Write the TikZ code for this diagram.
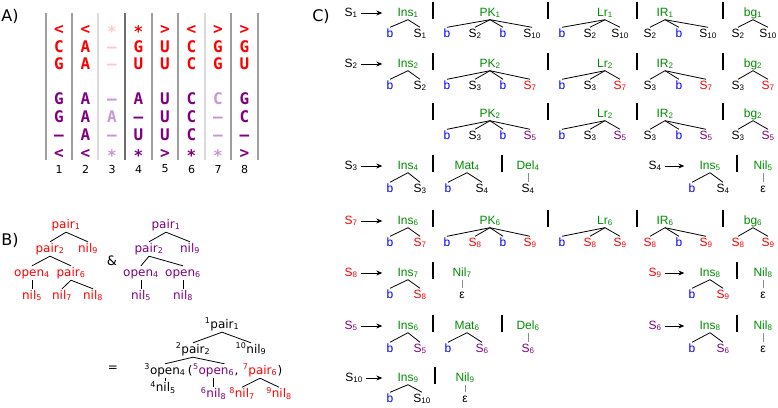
\documentclass[tikz,border=0pt]{standalone}
\usepackage{fontspec}
\setmainfont{DejaVu Sans}
\newfontfamily\helv{Liberation Sans}
\newfontfamily\seqfont{DejaVu Sans Mono}
\usetikzlibrary{arrows.meta,positioning,calc}
\definecolor{sred}{RGB}{255,0,0}
\definecolor{spur}{RGB}{128,0,128}
\definecolor{lred}{RGB}{255,200,200}
\definecolor{lpur}{RGB}{200,150,210}
\definecolor{sgreen}{RGB}{0,140,0}
\definecolor{sblue}{RGB}{0,0,255}
\newcommand{\sbs}[1]{\textsubscript{#1}}
\newcommand{\sps}[1]{\textsuperscript{#1}}
\newcommand{\st}{\raisebox{-3pt}{*}}
\newcommand{\gp}{\textendash}
\tikzstyle{seq}=[
        inner sep=0pt, text height=11.5pt, text depth=0pt,
        font=\seqfont\bfseries\fontsize{16}{16}\selectfont
]
\tikzstyle{colline}=[line width=1.3pt]
\tikzstyle{colnum}=[font=\fontsize{11}{12}\selectfont]
\tikzstyle{panel}=[font=\fontsize{16}{18}\selectfont]
\tikzstyle{tn}=[
        inner sep=1pt, text height=9pt, text depth=3pt,
        font=\fontsize{12}{14}\selectfont
]
\tikzstyle{cn}=[
        inner sep=1pt, text height=8.5pt, text depth=2.5pt,
        font=\helv\fontsize{12}{14}\selectfont
]
\tikzstyle{gname}=[cn, text=sgreen]
\tikzstyle{link}=[line width=0.8pt]
\tikzstyle{stem}=[line width=0.8pt, black!45]
\tikzstyle{sepbar}=[line width=1.4pt]
\tikzstyle{derive}=[
        -{Stealth[length=6pt,width=5pt]}, line width=0.8pt,
        shorten <=2pt, shorten >=14pt
]

\begin{document}
\begin{tikzpicture}[x=1pt, y=-1pt]
    \useasboundingbox (0,0) rectangle (778,407);

    % A) the two alignments
    \node[panel] (la) at (10,16) {A)};

    \foreach \x/\g in {46/38, 72/38, 98/14, 125/57, 152/38, 178/38, 205/14, 231/38, 258/38} {
        \draw[colline, black!\g] (\x,13) -- (\x,160);
    }

    \foreach \ch/\col [count=\i] in {</sred, </sred, \st/lred, \st/sred, >/sred, </sred, >/sred, >/sred}
        \node[seq, text=\col] (ra\i) at ({32.5+26.5*\i},29) {\ch};
    \foreach \ch/\col [count=\i] in {C/sred, A/sred, \gp/lred, G/sred, U/sred, C/sred, G/sred, G/sred}
        \node[seq, text=\col] (rb\i) at ({32.5+26.5*\i},47) {\ch};
    \foreach \ch/\col [count=\i] in {G/sred, A/sred, \gp/lred, U/sred, U/sred, C/sred, G/sred, U/sred}
        \node[seq, text=\col] (rc\i) at ({32.5+26.5*\i},64) {\ch};

    \foreach \ch/\col [count=\i] in {G/spur, A/spur, \gp/lpur, A/spur, U/spur, C/spur, C/lpur, G/spur}
        \node[seq, text=\col] (pa\i) at ({32.5+26.5*\i},99) {\ch};
    \foreach \ch/\col [count=\i] in {G/spur, A/spur, A/lpur, \gp/spur, U/spur, C/spur, \gp/lpur, C/spur}
        \node[seq, text=\col] (pb\i) at ({32.5+26.5*\i},117) {\ch};
    \foreach \ch/\col [count=\i] in {\gp/spur, A/spur, \gp/lpur, U/spur, U/spur, C/spur, \gp/lpur, \gp/spur}
        \node[seq, text=\col] (pc\i) at ({32.5+26.5*\i},135) {\ch};
    \foreach \ch/\col [count=\i] in {</spur, </spur, \st/lpur, \st/spur, >/spur, \st/spur, \st/lpur, >/spur}
        \node[seq, text=\col] (pd\i) at ({32.5+26.5*\i},153) {\ch};

    \foreach \i in {1,...,8} {
        \node[colnum] (num\i) at ({32.5+26.5*\i},169) {\i};
    }

    % B) the two trees and their merge
    \node[panel] (lb) at (10,240) {B)};

    \node[tn, text=sred] (ap1) at (66,225) {pair\sbs{1}};
    \node[tn, text=sred] (ap2) at (50,249) {pair\sbs{2}};
    \node[tn, text=sred] (an9) at (88,249) {nil\sbs{9}};
    \node[tn, text=sred] (ao4) at (32,273) {open\sbs{4}};
    \node[tn, text=sred] (ap6) at (71,273) {pair\sbs{6}};
    \node[tn, text=sred] (an5) at (32,296) {nil\sbs{5}};
    \node[tn, text=sred] (an7) at (62,296) {nil\sbs{7}};
    \node[tn, text=sred] (an8) at (93,296) {nil\sbs{8}};
    \draw[link] (ap1.south) -- (ap2.north);
    \draw[link] (ap1.south) -- (an9.north);
    \draw[link] (ap2.south) -- (ao4.north);
    \draw[link] (ap2.south) -- (ap6.north);
    \draw[link] (ao4.south) -- (an5.north);
    \draw[link] (ap6.south) -- (an7.north);
    \draw[link] (ap6.south) -- (an8.north);

    \node[tn, font=\fontsize{13}{14}\selectfont] (amp) at (112,262) {\&};

    \node[tn, text=spur] (bp1) at (166,225) {pair\sbs{1}};
    \node[tn, text=spur] (bp2) at (149,249) {pair\sbs{2}};
    \node[tn, text=spur] (bn9) at (190,249) {nil\sbs{9}};
    \node[tn, text=spur] (bo4) at (141,273) {open\sbs{4}};
    \node[tn, text=spur] (bo6) at (183,273) {open\sbs{6}};
    \node[tn, text=spur] (bn5) at (141,296) {nil\sbs{5}};
    \node[tn, text=spur] (bn8) at (183,296) {nil\sbs{8}};
    \draw[link] (bp1.south) -- (bp2.north);
    \draw[link] (bp1.south) -- (bn9.north);
    \draw[link] (bp2.south) -- (bo4.north);
    \draw[link] (bp2.south) -- (bo6.north);
    \draw[link] (bo4.south) -- (bn5.north);
    \draw[link] (bo6.south) -- (bn8.north);

    \node[tn] (eq) at (113,368) {=};

    \node[tn] (m1) at (222,325) {\sps{1}pair\sbs{1}};
    \node[tn] (m2) at (193,350) {\sps{2}pair\sbs{2}};
    \node[tn] (m10) at (251,350) {\sps{10}nil\sbs{9}};
    \node[tn] (m3) at (165,371) {\sps{3}open\sbs{4}};
    \node[tn, right=0pt of m3] (lpar) {(};
    \node[tn, text=spur, right=-2pt of lpar] (m5) {\sps{5}open\sbs{6}};
    \node[tn, right=-2pt of m5] (comma) {,};
    \node[tn, text=sred, right=2pt of comma] (m7) {\sps{7}pair\sbs{6}};
    \node[tn, right=-2pt of m7] (rpar) {)};
    \node[tn, below=3pt of m3, xshift=-2pt] (m4) {\sps{4}nil\sbs{5}};
    \node[tn, text=spur, below=9pt of m5] (m6) {\sps{6}nil\sbs{8}};
    \node[tn, text=sred, below=9pt of m7, xshift=-18pt] (m8) {\sps{8}nil\sbs{7}};
    \node[tn, text=sred, below=9pt of m7, xshift=19pt] (m9) {\sps{9}nil\sbs{8}};
    \coordinate (alt) at ($(m5.north)!.5!(m5.north east)$);
    \draw[link] (m1.south) -- (m2.north);
    \draw[link] (m1.south) -- (m10.north);
    \draw[link] (m2.south) -- (m3.north);
    \draw[link] (m2.south) -- (alt);
    \draw[link] (m3.south) -- (m3.south |- m4.north);
    \draw[link] (m5.south) -- (m6.north);
    \draw[link] (m7.south) -- (m8.north);
    \draw[link] (m7.south) -- (m9.north);

    % C) the rules
    \node[panel] (lc) at (321,16) {C)};

    \foreach \x/\y in {433/13, 548/13, 637/13, 723/13, 433/64, 548/64, 637/64, 723/64,
                       433/114, 548/114, 637/114, 723/114, 433/166, 502/166, 737/166,
                       433/221, 548/221, 637/221, 723/221, 433/273, 737/273,
                       433/326, 502/326, 737/326, 435/378} {
        \draw[sepbar] (\x,\y-11) -- (\x,\y+6);
    }

    % row S1
    \node[cn] (s1) at (351,13) {S\sbs{1}};
    \node[gname] (r1ins) at (408,13) {Ins\sbs{1}};
    \draw[derive] (s1) -- (r1ins);
    \foreach \txt/\col/\cx [count=\k] in {b/sblue/390, S\sbs{1}/black/420} {
        \node[cn, text=\col] (r1ins\k) at (\cx,34) {\txt};
        \draw[link] (r1ins.south) -- (r1ins\k.north);
    }
    \node[gname] (r1pk) at (490,13) {PK\sbs{1}};
    \foreach \txt/\col/\cx [count=\k] in {b/sblue/447, S\sbs{2}/black/475, b/sblue/503, S\sbs{10}/black/532} {
        \node[cn, text=\col] (r1pk\k) at (\cx,34) {\txt};
        \draw[link] (r1pk.south) -- (r1pk\k.north);
    }
    \node[gname] (r1lr) at (605,13) {Lr\sbs{1}};
    \foreach \txt/\col/\cx [count=\k] in {b/sblue/562, S\sbs{2}/black/590, S\sbs{10}/black/620} {
        \node[cn, text=\col] (r1lr\k) at (\cx,34) {\txt};
        \draw[link] (r1lr.south) -- (r1lr\k.north);
    }
    \node[gname] (r1ir) at (665,13) {IR\sbs{1}};
    \foreach \txt/\col/\cx [count=\k] in {S\sbs{2}/black/650, b/sblue/679, S\sbs{10}/black/708} {
        \node[cn, text=\col] (r1ir\k) at (\cx,34) {\txt};
        \draw[link] (r1ir.south) -- (r1ir\k.north);
    }
    \node[gname] (r1bg) at (753,13) {bg\sbs{1}};
    \foreach \txt/\col/\cx [count=\k] in {S\sbs{2}/black/738, S\sbs{10}/black/768} {
        \node[cn, text=\col] (r1bg\k) at (\cx,34) {\txt};
        \draw[link] (r1bg.south) -- (r1bg\k.north);
    }

    % row S2
    \node[cn] (s2) at (351,64) {S\sbs{2}};
    \node[gname] (r2ins) at (408,64) {Ins\sbs{2}};
    \draw[derive] (s2) -- (r2ins);
    \foreach \txt/\col/\cx [count=\k] in {b/sblue/390, S\sbs{2}/black/420} {
        \node[cn, text=\col] (r2ins\k) at (\cx,86) {\txt};
        \draw[link] (r2ins.south) -- (r2ins\k.north);
    }
    \node[gname] (r2pk) at (490,64) {PK\sbs{2}};
    \foreach \txt/\col/\cx [count=\k] in {b/sblue/447, S\sbs{3}/black/475, b/sblue/503, S\sbs{7}/sred/530} {
        \node[cn, text=\col] (r2pk\k) at (\cx,86) {\txt};
        \draw[link] (r2pk.south) -- (r2pk\k.north);
    }
    \node[gname] (r2lr) at (605,64) {Lr\sbs{2}};
    \foreach \txt/\col/\cx [count=\k] in {b/sblue/562, S\sbs{3}/black/590, S\sbs{7}/sred/620} {
        \node[cn, text=\col] (r2lr\k) at (\cx,86) {\txt};
        \draw[link] (r2lr.south) -- (r2lr\k.north);
    }
    \node[gname] (r2ir) at (665,64) {IR\sbs{2}};
    \foreach \txt/\col/\cx [count=\k] in {S\sbs{3}/black/650, b/sblue/679, S\sbs{7}/sred/706} {
        \node[cn, text=\col] (r2ir\k) at (\cx,86) {\txt};
        \draw[link] (r2ir.south) -- (r2ir\k.north);
    }
    \node[gname] (r2bg) at (753,64) {bg\sbs{2}};
    \foreach \txt/\col/\cx [count=\k] in {S\sbs{3}/black/738, S\sbs{7}/sred/768} {
        \node[cn, text=\col] (r2bg\k) at (\cx,86) {\txt};
        \draw[link] (r2bg.south) -- (r2bg\k.north);
    }

    % second alternative of S2
    \node[gname] (r3pk) at (490,114) {PK\sbs{2}};
    \foreach \txt/\col/\cx [count=\k] in {b/sblue/447, S\sbs{3}/black/475, b/sblue/503, S\sbs{5}/spur/530} {
        \node[cn, text=\col] (r3pk\k) at (\cx,136) {\txt};
        \draw[link] (r3pk.south) -- (r3pk\k.north);
    }
    \node[gname] (r3lr) at (605,114) {Lr\sbs{2}};
    \foreach \txt/\col/\cx [count=\k] in {b/sblue/562, S\sbs{3}/black/590, S\sbs{5}/spur/620} {
        \node[cn, text=\col] (r3lr\k) at (\cx,136) {\txt};
        \draw[link] (r3lr.south) -- (r3lr\k.north);
    }
    \node[gname] (r3ir) at (665,114) {IR\sbs{2}};
    \foreach \txt/\col/\cx [count=\k] in {S\sbs{3}/black/650, b/sblue/679, S\sbs{5}/spur/706} {
        \node[cn, text=\col] (r3ir\k) at (\cx,136) {\txt};
        \draw[link] (r3ir.south) -- (r3ir\k.north);
    }
    \node[gname] (r3bg) at (753,114) {bg\sbs{2}};
    \foreach \txt/\col/\cx [count=\k] in {S\sbs{3}/black/738, S\sbs{5}/spur/768} {
        \node[cn, text=\col] (r3bg\k) at (\cx,136) {\txt};
        \draw[link] (r3bg.south) -- (r3bg\k.north);
    }

    % rows S3 and S4
    \node[cn] (s3) at (351,166) {S\sbs{3}};
    \node[gname] (r4ins) at (408,166) {Ins\sbs{4}};
    \draw[derive] (s3) -- (r4ins);
    \foreach \txt/\col/\cx [count=\k] in {b/sblue/390, S\sbs{3}/black/420} {
        \node[cn, text=\col] (r4ins\k) at (\cx,189) {\txt};
        \draw[link] (r4ins.south) -- (r4ins\k.north);
    }
    \node[gname] (r4mat) at (467,166) {Mat\sbs{4}};
    \foreach \txt/\col/\cx [count=\k] in {b/sblue/448, S\sbs{4}/black/482} {
        \node[cn, text=\col] (r4mat\k) at (\cx,189) {\txt};
        \draw[link] (r4mat.south) -- (r4mat\k.north);
    }
    \node[gname] (r4del) at (528,166) {Del\sbs{4}};
    \node[cn] (r4del1) at (528,189) {S\sbs{4}};
    \draw[stem] (r4del.south) -- (r4del1.north);

    \node[cn] (s4) at (655,166) {S\sbs{4}};
    \node[gname] (r4insb) at (710,166) {Ins\sbs{5}};
    \draw[derive] (s4) -- (r4insb);
    \foreach \txt/\col/\cx [count=\k] in {b/sblue/692, S\sbs{4}/black/723} {
        \node[cn, text=\col] (r4insb\k) at (\cx,189) {\txt};
        \draw[link] (r4insb.south) -- (r4insb\k.north);
    }
    \node[gname] (r4nil) at (763,166) {Nil\sbs{5}};
    \node[cn] (r4nil1) at (763,189) {ε};
    \draw[stem] (r4nil.south) -- (r4nil1.north);

    % row S7
    \node[cn, text=sred] (s7) at (351,221) {S\sbs{7}};
    \node[gname] (r5ins) at (408,221) {Ins\sbs{6}};
    \draw[derive] (s7) -- (r5ins);
    \foreach \txt/\col/\cx [count=\k] in {b/sblue/390, S\sbs{7}/sred/420} {
        \node[cn, text=\col] (r5ins\k) at (\cx,243) {\txt};
        \draw[link] (r5ins.south) -- (r5ins\k.north);
    }
    \node[gname] (r5pk) at (490,221) {PK\sbs{6}};
    \foreach \txt/\col/\cx [count=\k] in {b/sblue/447, S\sbs{8}/sred/475, b/sblue/503, S\sbs{9}/sred/530} {
        \node[cn, text=\col] (r5pk\k) at (\cx,243) {\txt};
        \draw[link] (r5pk.south) -- (r5pk\k.north);
    }
    \node[gname] (r5lr) at (605,221) {Lr\sbs{6}};
    \foreach \txt/\col/\cx [count=\k] in {b/sblue/562, S\sbs{8}/sred/590, S\sbs{9}/sred/620} {
        \node[cn, text=\col] (r5lr\k) at (\cx,243) {\txt};
        \draw[link] (r5lr.south) -- (r5lr\k.north);
    }
    \node[gname] (r5ir) at (665,221) {IR\sbs{6}};
    \foreach \txt/\col/\cx [count=\k] in {S\sbs{8}/sred/650, b/sblue/679, S\sbs{9}/sred/706} {
        \node[cn, text=\col] (r5ir\k) at (\cx,243) {\txt};
        \draw[link] (r5ir.south) -- (r5ir\k.north);
    }
    \node[gname] (r5bg) at (753,221) {bg\sbs{6}};
    \foreach \txt/\col/\cx [count=\k] in {S\sbs{8}/sred/738, S\sbs{9}/sred/768} {
        \node[cn, text=\col] (r5bg\k) at (\cx,243) {\txt};
        \draw[link] (r5bg.south) -- (r5bg\k.north);
    }

    % rows S8 and S9
    \node[cn, text=sred] (s8) at (351,273) {S\sbs{8}};
    \node[gname] (r6ins) at (408,273) {Ins\sbs{7}};
    \draw[derive] (s8) -- (r6ins);
    \foreach \txt/\col/\cx [count=\k] in {b/sblue/390, S\sbs{8}/sred/420} {
        \node[cn, text=\col] (r6ins\k) at (\cx,295) {\txt};
        \draw[link] (r6ins.south) -- (r6ins\k.north);
    }
    \node[gname] (r6nil) at (462,273) {Nil\sbs{7}};
    \node[cn] (r6nil1) at (462,295) {ε};
    \draw[stem] (r6nil.south) -- (r6nil1.north);

    \node[cn, text=sred] (s9) at (655,273) {S\sbs{9}};
    \node[gname] (r6insb) at (710,273) {Ins\sbs{8}};
    \draw[derive] (s9) -- (r6insb);
    \foreach \txt/\col/\cx [count=\k] in {b/sblue/692, S\sbs{9}/sred/723} {
        \node[cn, text=\col] (r6insb\k) at (\cx,295) {\txt};
        \draw[link] (r6insb.south) -- (r6insb\k.north);
    }
    \node[gname] (r6nilb) at (763,273) {Nil\sbs{8}};
    \node[cn] (r6nilb1) at (763,295) {ε};
    \draw[stem] (r6nilb.south) -- (r6nilb1.north);

    % rows S5 and S6
    \node[cn, text=spur] (s5) at (351,326) {S\sbs{5}};
    \node[gname] (r7ins) at (408,326) {Ins\sbs{6}};
    \draw[derive] (s5) -- (r7ins);
    \foreach \txt/\col/\cx [count=\k] in {b/sblue/390, S\sbs{5}/spur/420} {
        \node[cn, text=\col] (r7ins\k) at (\cx,349) {\txt};
        \draw[link] (r7ins.south) -- (r7ins\k.north);
    }
    \node[gname] (r7mat) at (467,326) {Mat\sbs{6}};
    \foreach \txt/\col/\cx [count=\k] in {b/sblue/448, S\sbs{6}/spur/482} {
        \node[cn, text=\col] (r7mat\k) at (\cx,349) {\txt};
        \draw[link] (r7mat.south) -- (r7mat\k.north);
    }
    \node[gname] (r7del) at (528,326) {Del\sbs{6}};
    \node[cn, text=spur] (r7del1) at (528,349) {S\sbs{6}};
    \draw[stem] (r7del.south) -- (r7del1.north);

    \node[cn, text=spur] (s6) at (655,326) {S\sbs{6}};
    \node[gname] (r7insb) at (710,326) {Ins\sbs{8}};
    \draw[derive] (s6) -- (r7insb);
    \foreach \txt/\col/\cx [count=\k] in {b/sblue/692, S\sbs{6}/spur/723} {
        \node[cn, text=\col] (r7insb\k) at (\cx,349) {\txt};
        \draw[link] (r7insb.south) -- (r7insb\k.north);
    }
    \node[gname] (r7nil) at (763,326) {Nil\sbs{8}};
    \node[cn] (r7nil1) at (763,349) {ε};
    \draw[stem] (r7nil.south) -- (r7nil1.north);

    % row S10
    \node[cn] (s10) at (354,378) {S\sbs{10}};
    \node[gname] (r8ins) at (408,378) {Ins\sbs{9}};
    \draw[derive] (s10) -- (r8ins);
    \foreach \txt/\col/\cx [count=\k] in {b/sblue/390, S\sbs{10}/black/422} {
        \node[cn, text=\col] (r8ins\k) at (\cx,399) {\txt};
        \draw[link] (r8ins.south) -- (r8ins\k.north);
    }
    \node[gname] (r8nil) at (465,378) {Nil\sbs{9}};
    \node[cn] (r8nil1) at (465,399) {ε};
    \draw[stem] (r8nil.south) -- (r8nil1.north);
\end{tikzpicture}
\end{document}
